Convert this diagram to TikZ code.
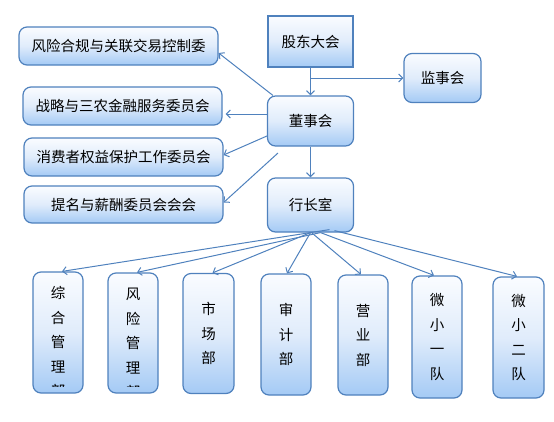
\documentclass[tikz,border=0pt]{standalone}
\usepackage{fontspec}
\setmainfont{Noto Sans CJK SC}
\usetikzlibrary{calc, arrows.meta}
\definecolor{lineblue}{RGB}{79,129,189}
\definecolor{topfill}{RGB}{250,252,255}
\definecolor{midfill}{RGB}{224,236,251}
\definecolor{botfill}{RGB}{164,202,245}

\begin{document}
\begin{tikzpicture}[x=1pt, y=-1pt, line width=1pt,
  box/.style={draw=lineblue, line width=1.2pt, rounded corners=8pt, top color=topfill, bottom color=botfill, middle color=midfill, inner sep=0pt, font=\fontsize{14.5}{17}\selectfont},
  wide/.style={box, minimum width=199pt, minimum height=38pt},
  col/.style={box, minimum width=50pt, minimum height=120pt, align=center, font=\fontsize{14.5}{24.5}\selectfont},
  arr/.style={draw=lineblue, line width=1pt, -{Straight Barb[length=4pt, width=8pt]}}]
  \useasboundingbox (0,0) rectangle (554,421);
  \node[box, sharp corners, minimum width=85pt, minimum height=51pt] (gd) at (310.5,41.5) {股东大会};
  \node[box, minimum width=77pt, minimum height=49pt] (jsh) at (442.5,78) {监事会};
  \node[box, minimum width=86pt, minimum height=50pt] (dsh) at (310.5,121) {董事会};
  \node[box, minimum width=86pt, minimum height=54pt] (hz) at (310.5,205) {行长室};
  \node[wide] (fhwy) at (118.5,46) {风险合规与关联交易控制委};
  \node[wide] (zlwy) at (122.5,106) {战略与三农金融服务委员会};
  \node[wide] (xfwy) at (123.5,157) {消费者权益保护工作委员会};
  \node[wide, minimum height=37pt] (tmwy) at (123.5,204.5) {提名与薪酬委员会会会};
  \node[col, minimum height=121pt, path picture={\clip ([yshift=7pt]path picture bounding box.south west) rectangle (path picture bounding box.north east); \node[anchor=north, inner sep=0pt, align=center] at ([yshift=-9pt]path picture bounding box.north) {综\\合\\管\\理\\部};}] (zhgl) at (58,332.5) {};
  \node[col, path picture={\clip ([yshift=7pt]path picture bounding box.south west) rectangle (path picture bounding box.north east); \node[anchor=north, inner sep=0pt, align=center] at ([yshift=-10pt]path picture bounding box.north) {风\\险\\管\\理\\部};}] (fxgl) at (133,333) {};
  \node[col, minimum width=51pt] (scb) at (208.5,333.5) {市\\场\\部};
  \node[col, minimum height=121pt] (sjb) at (286,334.5) {审\\计\\部};
  \node[col] (yyb) at (363,335) {营\\业\\部};
  \node[col, minimum height=122pt] (wxyd) at (437,337) {微\\小\\一\\队};
  \node[col, minimum width=51pt, minimum height=121pt] (wxed) at (518.5,337.5) {微\\小\\二\\队};
  \coordinate (dshx) at (278,153);
  \draw[arr] (gd.south) -- (dsh.north);
  \draw[arr] (gd.south |- jsh.west) -- (jsh.west);
  \draw[arr] (dsh.south) -- (hz.north);
  \draw[arr] ([xshift=6pt]dsh.north west) -- ([yshift=-7pt]fhwy.east);
  \draw[arr] ([yshift=7pt]dsh.west) -- ([xshift=3pt, yshift=-8pt]zlwy.east);
  \draw[arr] ([yshift=-15pt]dsh.west) -- ([yshift=2pt]xfwy.east);
  \draw[arr] (dshx) -- ([yshift=2pt]tmwy.east);
  \draw[arr] ([xshift=19pt, yshift=3pt]hz.south) -- ([xshift=4pt]zhgl.north);
  \draw[arr] ([xshift=10pt]hz.south) -- ([xshift=4pt]fxgl.north);
  \draw[arr] (hz.south) -- ([xshift=4pt]scb.north);
  \draw[arr] (hz.south) -- ([xshift=1pt]sjb.north);
  \draw[arr] ([xshift=1pt]hz.south) -- ([xshift=-2pt]yyb.north);
  \draw[arr] ([xshift=10pt]hz.south) -- ([xshift=-3pt]wxyd.north);
  \draw[arr] ([xshift=24pt, yshift=2pt]hz.south) -- ([xshift=-1.5pt]wxed.north);
\end{tikzpicture}
\end{document}
